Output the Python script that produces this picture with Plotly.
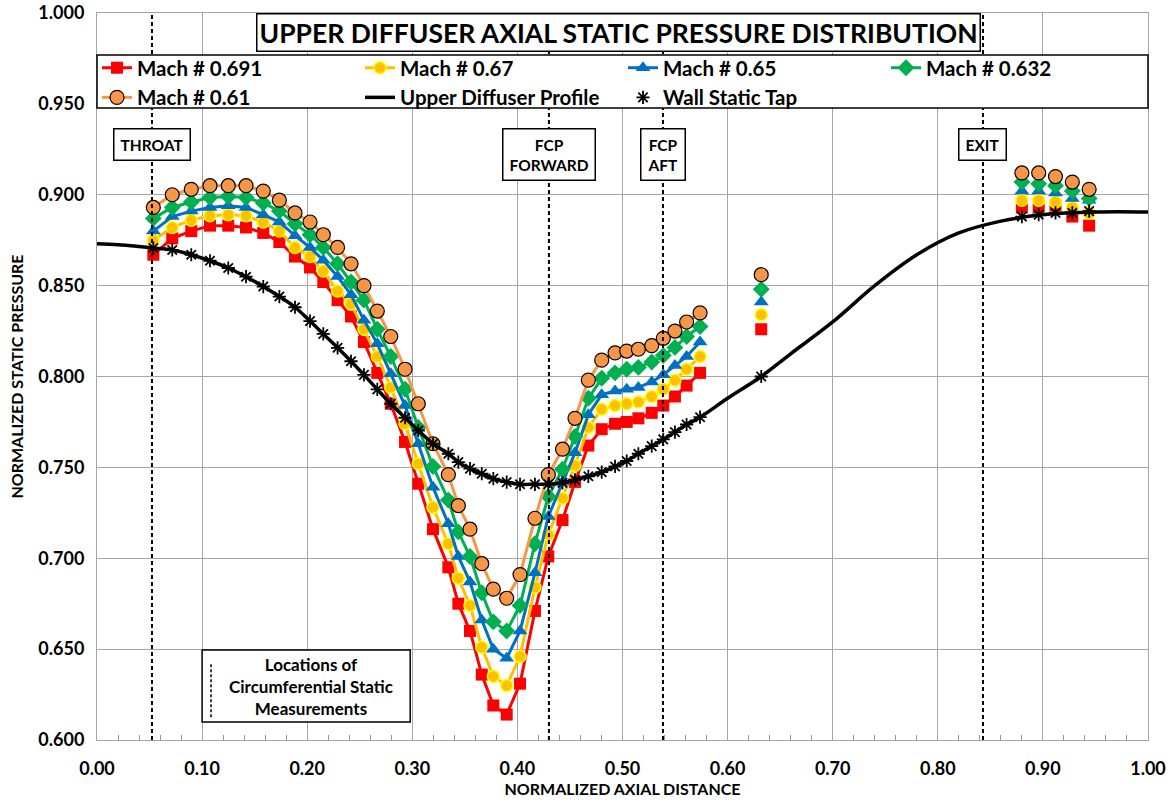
import plotly.graph_objects as go

# ---------------- data ----------------
tap_x = [0.0536, 0.0716, 0.0897, 0.1075, 0.1249, 0.1418, 0.1582, 0.1735, 0.1884, 0.2027,
         0.2153, 0.2289, 0.2417, 0.2540, 0.2667, 0.2795, 0.2931, 0.3057, 0.3197, 0.3343,
         0.3438, 0.3549, 0.3661, 0.3771, 0.3898, 0.4025, 0.4167, 0.4294, 0.4429, 0.4548,
         0.4675, 0.4802, 0.4929, 0.5040, 0.5151, 0.5278, 0.5388, 0.5499, 0.5610, 0.5738]

mach_0691 = [0.867, 0.876, 0.880, 0.883, 0.883, 0.882, 0.879, 0.874, 0.866, 0.860,
             0.852, 0.842, 0.833, 0.819, 0.802, 0.785, 0.764, 0.741, 0.716, 0.695,
             0.675, 0.660, 0.636, 0.619, 0.614, 0.631, 0.671, 0.701, 0.721, 0.742,
             0.762, 0.771, 0.774, 0.775, 0.777, 0.780, 0.784, 0.789, 0.795, 0.802]
mach_067 = [0.875, 0.882, 0.886, 0.8885, 0.889, 0.8885, 0.885, 0.880, 0.871, 0.866,
            0.858, 0.847, 0.840, 0.826, 0.811, 0.794, 0.774, 0.752, 0.728, 0.708,
            0.689, 0.674, 0.651, 0.635, 0.630, 0.646, 0.684, 0.713, 0.733, 0.751,
            0.772, 0.782, 0.784, 0.785, 0.786, 0.789, 0.793, 0.798, 0.804, 0.811]
mach_065 = [0.880, 0.888, 0.891, 0.893, 0.894, 0.893, 0.889, 0.885, 0.8775, 0.871,
            0.864, 0.855, 0.845, 0.831, 0.818, 0.8015, 0.784, 0.763, 0.739, 0.719,
            0.701, 0.687, 0.666, 0.650, 0.645, 0.660, 0.692, 0.723, 0.742, 0.758,
            0.779, 0.790, 0.792, 0.793, 0.794, 0.797, 0.801, 0.806, 0.811, 0.819]
mach_0632 = [0.887, 0.893, 0.896, 0.8985, 0.899, 0.8985, 0.8955, 0.891, 0.884, 0.878,
             0.871, 0.862, 0.852, 0.842, 0.826, 0.811, 0.793, 0.772, 0.7505, 0.732,
             0.7145, 0.701, 0.681, 0.665, 0.660, 0.674, 0.708, 0.734, 0.749, 0.767,
             0.788, 0.799, 0.802, 0.804, 0.805, 0.808, 0.8115, 0.816, 0.822, 0.8275]
mach_061 = [0.893, 0.900, 0.903, 0.905, 0.905, 0.905, 0.902, 0.897, 0.890, 0.885,
            0.878, 0.871, 0.862, 0.850, 0.836, 0.822, 0.804, 0.785, 0.763, 0.746,
            0.729, 0.716, 0.697, 0.683, 0.678, 0.691, 0.722, 0.746, 0.760, 0.777,
            0.798, 0.809, 0.813, 0.814, 0.815, 0.817, 0.821, 0.825, 0.830, 0.835]
wall_tap = [0.8707, 0.8696, 0.8670, 0.8637, 0.8597, 0.8549, 0.8495, 0.8440, 0.8381, 0.8305,
            0.8234, 0.8158, 0.8084, 0.8009, 0.7929, 0.7850, 0.7773, 0.7703, 0.7630, 0.7575,
            0.7529, 0.7493, 0.7465, 0.7438, 0.7419, 0.7407, 0.7407, 0.7407, 0.7415, 0.7432,
            0.7451, 0.7474, 0.7505, 0.7535, 0.7575, 0.7617, 0.7654, 0.7694, 0.7736, 0.7776]

iso_x = 0.632
iso_0691, iso_067, iso_065, iso_0632, iso_061, iso_tap = 0.826, 0.834, 0.841, 0.848, 0.856, 0.800

exit_x = [0.880, 0.896, 0.912, 0.928, 0.944]
exit_0691 = [0.893, 0.893, 0.894, 0.888, 0.883]
exit_067 = [0.897, 0.897, 0.896, 0.893, 0.890]
exit_065 = [0.902, 0.902, 0.901, 0.898, 0.897]
exit_0632 = [0.907, 0.906, 0.905, 0.902, 0.898]
exit_061 = [0.912, 0.912, 0.910, 0.907, 0.903]
exit_tap = [0.888, 0.889, 0.890, 0.890, 0.891]

profile_x = [0.0, 0.02, 0.04] + tap_x + [0.60, 0.632, 0.66, 0.70, 0.74, 0.78, 0.82, 0.86, 0.90, 0.95, 1.0]
profile_y = [0.873, 0.8725, 0.8715] + wall_tap + [0.788, 0.800, 0.8125, 0.830, 0.850, 0.867, 0.879, 0.8855, 0.889, 0.8905, 0.8905]

marker_lines = {"THROAT": 0.0523, "FCP<br>FORWARD": 0.430, "FCP<br>AFT": 0.5385, "EXIT": 0.843}

FONT = "Lato"


def segments(main, iso, ex):
    xs = list(tap_x) + [None, iso_x]
    ys = list(main) + [None, iso]
    for x, y in zip(exit_x, ex):
        xs += [None, x]
        ys += [None, y]
    return xs, ys


fig = go.Figure()

series = [
    ("Mach # 0.691", mach_0691, iso_0691, exit_0691, "#FF0000", "square", 12, dict(color="#FF0000", width=0)),
    ("Mach # 0.67", mach_067, iso_067, exit_067, "#FFC000", "circle", 12, dict(color="#FFFF00", width=1.5)),
    ("Mach # 0.65", mach_065, iso_065, exit_065, "#0070C0", "triangle-up", 13, dict(color="#0070C0", width=0)),
    ("Mach # 0.632", mach_0632, iso_0632, exit_0632, "#00B050", "diamond", 13, dict(color="#00B050", width=0)),
    ("Mach # 0.61", mach_061, iso_061, exit_061, "#F79646", "circle", 14, dict(color="#000000", width=1.2)),
]
for name, main, iso, ex, col, sym, size, mline in series:
    xs, ys = segments(main, iso, ex)
    fig.add_trace(go.Scatter(
        x=xs, y=ys, name=name, mode="lines+markers", connectgaps=False,
        line=dict(color=col, width=3),
        marker=dict(symbol=sym, size=size, color=col, line=mline),
    ))

fig.add_trace(go.Scatter(
    x=profile_x, y=profile_y, name="Upper Diffuser Profile", mode="lines",
    line=dict(color="black", width=3.5, shape="spline", smoothing=1.0),
))

tx = list(tap_x) + [iso_x] + exit_x
ty = list(wall_tap) + [iso_tap] + exit_tap
fig.add_trace(go.Scatter(
    x=tx, y=ty, name="Wall Static Tap", mode="markers",
    marker=dict(symbol="asterisk-open", size=11, color="black", line=dict(color="black", width=1.8)),
))

shapes = []
for lbl, xv in marker_lines.items():
    shapes.append(dict(type="line", xref="x", yref="y", x0=xv, x1=xv, y0=0.6, y1=1.0,
                       line=dict(color="black", width=2, dash="4px,3px"), layer="above"))
# legend frame
shapes.append(dict(type="rect", xref="paper", yref="paper", x0=0, x1=1, y0=0.8693, y1=0.9422,
                   fillcolor="white", line=dict(color="black", width=1.5), layer="above"))
# bottom-left explanation box
shapes.append(dict(type="rect", xref="x", yref="y", x0=0.100, x1=0.298, y0=0.6099, y1=0.6495,
                   fillcolor="white", line=dict(color="black", width=1.5), layer="above"))
shapes.append(dict(type="line", xref="x", yref="y", x0=0.1085, x1=0.1085, y0=0.6125, y1=0.6425,
                   line=dict(color="black", width=1.5, dash="3px,2px"), layer="above"))

annotations = [
    dict(text="UPPER DIFFUSER AXIAL STATIC PRESSURE DISTRIBUTION", xref="paper", yref="paper",
         x=0.4962, y=1.0, xanchor="center", yanchor="top", showarrow=False,
         font=dict(family=FONT, size=26.5, color="black", weight="bold"),
         bgcolor="white", bordercolor="black", borderwidth=1.5, borderpad=2),
    dict(text="Locations of<br>Circumferential Static<br>Measurements", xref="x", yref="y",
         x=0.2036, y=0.6297, xanchor="center", yanchor="middle", showarrow=False,
         font=dict(family=FONT, size=17, color="black", weight="bold")),
]
for lbl, xv in marker_lines.items():
    annotations.append(dict(text=lbl, xref="x", yref="y", x=xv, y=0.937, xanchor="center",
                            yanchor="top", showarrow=False,
                            font=dict(family=FONT, size=15.5, color="black", weight="bold"),
                            bgcolor="white", bordercolor="black", borderwidth=1.5, borderpad=6))

axis_font = dict(family=FONT, size=18, color="black", weight="bold")
title_font = dict(family=FONT, size=16, color="black", weight="bold")
fig.update_layout(
    width=1172, height=803,
    margin=dict(l=97, r=24, t=13, b=63),
    paper_bgcolor="white", plot_bgcolor="white",
    font=dict(family=FONT, color="black"),
    shapes=shapes, annotations=annotations,
    legend=dict(orientation="h", x=0.0, y=0.952, xanchor="left", yanchor="top",
                bgcolor="rgba(0,0,0,0)", borderwidth=0, entrywidth=218, entrywidthmode="pixels",
                font=dict(family=FONT, size=20.5, color="black", weight="bold"),
                tracegroupgap=0, itemwidth=30),
    xaxis=dict(range=[0, 1], dtick=0.1, tickformat=".2f", showgrid=True, gridcolor="#A6A6A6",
               gridwidth=1, showline=True, linecolor="#A6A6A6", linewidth=1, mirror=True,
               zeroline=False, ticks="", tickfont=axis_font, automargin=False,
               ticklabelstandoff=12,
               minor=dict(dtick=0.02, ticks="inside", ticklen=5, tickcolor="#999999", showgrid=False),
               title=dict(text="NORMALIZED AXIAL DISTANCE", standoff=6, font=title_font)),
    yaxis=dict(range=[0.6, 1.0], dtick=0.05, tickformat=".3f", showgrid=True, gridcolor="#A6A6A6",
               gridwidth=1, showline=True, linecolor="#A6A6A6", linewidth=1, mirror=True,
               zeroline=False, ticks="", tickfont=axis_font, automargin=False,
               ticklabelstandoff=8,
               title=dict(text="NORMALIZED STATIC PRESSURE", standoff=10, font=title_font)),
)

fig.write_html("out.html")
